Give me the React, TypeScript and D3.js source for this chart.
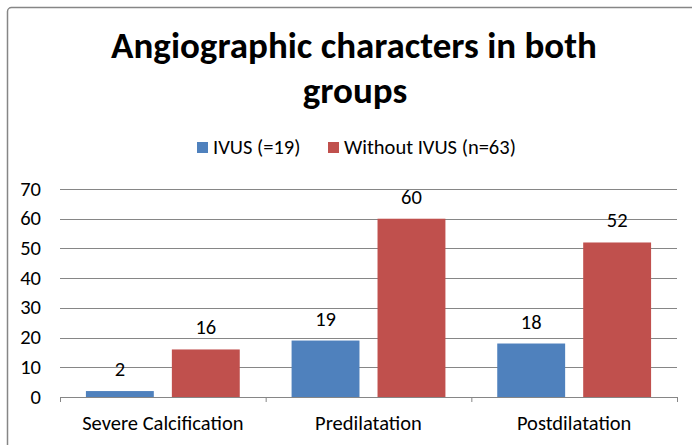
import React from "react";
import * as d3 from "d3";

const categories = ["Severe Calcification", "Predilatation", "Postdilatation"];
const seriesNames = ["IVUS (=19)", "Without IVUS (n=63)"];
const ivusValues = [2, 19, 18];
const withoutValues = [16, 60, 52];
const yTicks = [0, 10, 20, 30, 40, 50, 60, 70];
const colors = ["#4F81BD", "#C0504D"];

const W = 692;
const H = 445;
const FONT = "Carlito, Calibri, 'Open Sans', sans-serif";
const FS = 20.5;

export default function App() {
  const left = 60;
  const right = 677;
  const top = 189;
  const bottom = 397;

  const x0 = d3.scaleBand<string>().domain(categories).range([left, right]).paddingInner(0).paddingOuter(0);
  const bw = x0.bandwidth();
  const x1 = d3
    .scaleBand<string>()
    .domain(seriesNames)
    .range([bw * 0.126, bw * (1 - 0.126)])
    .paddingInner(0.21);
  const y = d3.scaleLinear().domain([0, 70]).range([bottom, top]);

  const series = [ivusValues, withoutValues];

  return (
    <svg width={W} height={H} style={{ position: "absolute", left: 0, top: 0, background: "#fff" }}>
      <rect x={7.5} y={7.5} width={W} height={H} fill="#fff" stroke="#868686" strokeWidth={1.5} rx={4} />
      <text x={354} y={58} textAnchor="middle" fontFamily={FONT} fontWeight="bold" fontSize={37} fill="#000">
        Angiographic characters in both
      </text>
      <text x={355} y={103} textAnchor="middle" fontFamily={FONT} fontWeight="bold" fontSize={37} fill="#000">
        groups
      </text>
      {/* legend */}
      <rect x={197} y={142} width={11} height={11} fill={colors[0]} />
      <text x={213} y={154} fontFamily={FONT} fontSize={FS} fill="#000">
        {seriesNames[0]}
      </text>
      <rect x={328} y={142} width={11} height={11} fill={colors[1]} />
      <text x={344} y={154} fontFamily={FONT} fontSize={FS} fill="#000">
        {seriesNames[1]}
      </text>
      {/* gridlines */}
      {yTicks.map((t) => (
        <g key={t}>
          {t > 0 && (
            <line x1={left} x2={right} y1={Math.round(y(t)) + 0.5} y2={Math.round(y(t)) + 0.5} stroke="#868686" strokeWidth={1} />
          )}
          <text x={41} y={y(t) + 6.5} textAnchor="end" fontFamily={FONT} fontSize={FS} fill="#000">
            {t}
          </text>
        </g>
      ))}
      {/* bars */}
      {categories.map((c, i) => (
        <g key={c} transform={`translate(${x0(c)},0)`}>
          {series.map((vals, s) => (
            <g key={s}>
              <rect
                x={x1(seriesNames[s])}
                y={y(vals[i])}
                width={x1.bandwidth()}
                height={bottom - y(vals[i])}
                fill={colors[s]}
              />
              <text
                x={(x1(seriesNames[s]) as number) + x1.bandwidth() / 2}
                y={y(vals[i]) - 15}
                textAnchor="middle"
                fontFamily={FONT}
                fontSize={FS}
                fill="#000"
              >
                {vals[i]}
              </text>
            </g>
          ))}
          <text x={bw / 2} y={430} textAnchor="middle" fontFamily={FONT} fontSize={FS} fill="#000">
            {c}
          </text>
        </g>
      ))}
      {/* x axis */}
      <line x1={left} x2={right} y1={bottom + 0.5} y2={bottom + 0.5} stroke="#868686" />
      {[0, 1, 2, 3].map((k) => (
        <line key={k} x1={left + k * bw + 0.5} x2={left + k * bw + 0.5} y1={bottom} y2={bottom + 5} stroke="#868686" />
      ))}
    </svg>
  );
}
